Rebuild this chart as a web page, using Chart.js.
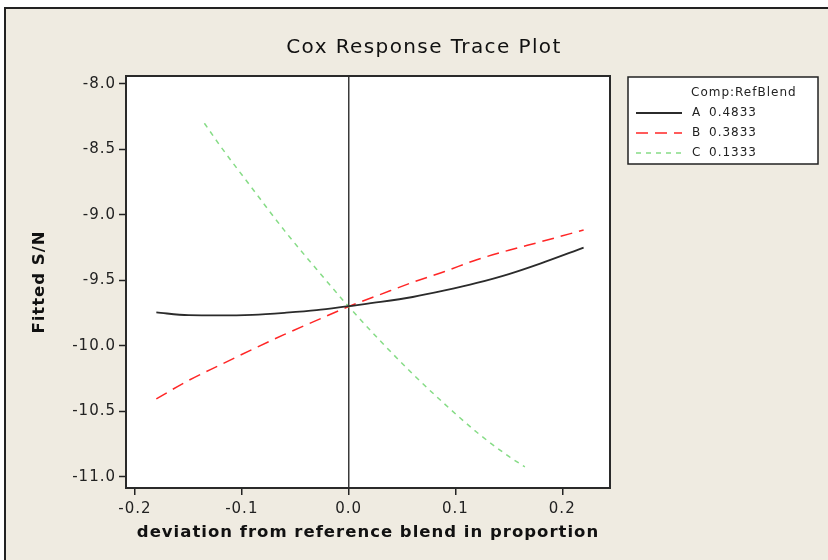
<!DOCTYPE html>
<html>
<head>
<meta charset="utf-8">
<script src="https://cdn.jsdelivr.net/npm/chart.js@4.4.0/dist/chart.umd.min.js"></script>
<style>
  html, body { margin: 0; padding: 0; background: #fff; }
  canvas { display: block; }
</style>
</head>
<body>
<canvas id="chart" width="828" height="560"></canvas>
<script>
// values
const compNames = ['A', 'B', 'C'];
const refBlend = ['0.4833', '0.3833', '0.1333'];

const xA = [-0.18, -0.15, -0.12, -0.09, -0.06, -0.03, 0, 0.03, 0.06, 0.09, 0.12, 0.15, 0.18, 0.22];
const yA = [-9.745, -9.766, -9.768, -9.763, -9.748, -9.728, -9.697, -9.665, -9.627, -9.577, -9.520, -9.452, -9.370, -9.250];

const xB = [-0.18, -0.15, -0.12, -0.09, -0.06, -0.03, 0, 0.03, 0.06, 0.09, 0.12, 0.15, 0.18, 0.22];
const yB = [-10.405, -10.265, -10.145, -10.027, -9.913, -9.806, -9.700, -9.607, -9.515, -9.432, -9.342, -9.270, -9.205, -9.115];

const xC = [-0.135, -0.12, -0.09, -0.06, -0.03, 0, 0.03, 0.06, 0.09, 0.12, 0.15, 0.165];
const yC = [-8.300, -8.475, -8.800, -9.120, -9.415, -9.700, -9.965, -10.215, -10.445, -10.660, -10.845, -10.925];

const xTickValues = [-0.2, -0.1, 0, 0.1, 0.2];
const xTickLabels = ['-0.2', '-0.1', '0.0', '0.1', '0.2'];
const yTickValues = [-8.0, -8.5, -9.0, -9.5, -10.0, -10.5, -11.0];
const yTickLabels = ['-8.0', '-8.5', '-9.0', '-9.5', '-10.0', '-10.5', '-11.0'];

const lineColors = ['#2b2b2b', '#ff2626', '#86dc86'];
const lineDashes = [[], [12, 7], [5, 5]];
const lineWidths = [1.8, 1.5, 1.5];

const toPoints = (xs, ys) => xs.map((x, i) => ({ x, y: ys[i] }));
const series = [toPoints(xA, yA), toPoints(xB, yB), toPoints(xC, yC)];

const BEIGE = '#efebe1';

// window background, plot background and outer frame
const backdrop = {
    id: 'backdrop',
    beforeDraw(chart) {
        const { ctx, width, height, chartArea: a } = chart;
        ctx.save();
        ctx.fillStyle = '#ffffff';
        ctx.fillRect(0, 0, width, height);
        ctx.fillStyle = BEIGE;
        ctx.fillRect(5, 8, width - 5, height - 8);
        ctx.strokeStyle = '#222';
        ctx.lineWidth = 2;
        ctx.beginPath();
        ctx.moveTo(5, height);
        ctx.lineTo(5, 8);
        ctx.lineTo(width, 8);
        ctx.stroke();
        ctx.fillStyle = '#ffffff';
        ctx.fillRect(a.left, a.top, a.right - a.left, a.bottom - a.top);
        ctx.restore();
        ctx.letterSpacing = '1px';
    },
    afterDatasetsDraw(chart) {
        const { ctx, chartArea: a } = chart;
        ctx.save();
        ctx.strokeStyle = '#2a2a2a';
        ctx.lineWidth = 2;
        ctx.strokeRect(a.left, a.top, a.right - a.left, a.bottom - a.top);
        ctx.restore();
    },
    afterDraw(chart) {
        const ctx = chart.ctx;
        // title
        ctx.save();
        ctx.letterSpacing = '1.4px';
        ctx.font = '20px "DejaVu Sans"';
        ctx.fillStyle = '#111';
        ctx.textAlign = 'center';
        ctx.textBaseline = 'middle';
        ctx.fillText('Cox Response Trace Plot', 424, 48);
        ctx.restore();

        // legend box
        ctx.save();
        ctx.fillStyle = '#ffffff';
        ctx.fillRect(628, 77, 190, 87);
        ctx.strokeStyle = '#222';
        ctx.lineWidth = 1.5;
        ctx.strokeRect(628, 77, 190, 87);
        ctx.letterSpacing = '1px';
        ctx.font = '12px "DejaVu Sans"';
        ctx.fillStyle = '#222';
        ctx.textBaseline = 'middle';
        ctx.textAlign = 'left';
        ctx.fillText('Comp:RefBlend', 691, 93);
        chart.data.datasets.forEach((ds, i) => {
            const y = 113 + i * 20;
            ctx.strokeStyle = ds.borderColor;
            ctx.lineWidth = ds.borderWidth;
            ctx.setLineDash(ds.borderDash || []);
            ctx.beginPath();
            ctx.moveTo(636, y);
            ctx.lineTo(682, y);
            ctx.stroke();
            ctx.setLineDash([]);
            ctx.fillText(compNames[i], 692, y);
            ctx.fillText(refBlend[i], 709, y);
        });
        ctx.restore();
        ctx.letterSpacing = '0px';
    }
};

new Chart(document.getElementById('chart'), {
    type: 'line',
    data: {
        datasets: series.map((pts, i) => ({
            label: compNames[i] + ' ' + refBlend[i],
            data: pts,
            borderColor: lineColors[i],
            borderDash: lineDashes[i],
            borderWidth: lineWidths[i],
            pointRadius: 0,
            fill: false,
            cubicInterpolationMode: 'monotone'
        }))
    },
    options: {
        responsive: false,
        animation: false,
        devicePixelRatio: 1,
        layout: { padding: { left: 26, right: 218, top: 76, bottom: 13 } },
        plugins: {
            legend: { display: false },
            title: { display: false },
            tooltip: { enabled: false }
        },
        scales: {
            x: {
                type: 'linear',
                min: -0.2084,
                max: 0.2447,
                afterBuildTicks: s => { s.ticks = xTickValues.map(v => ({ value: v })); },
                afterFit: s => { s.height = 59; },
                border: { display: false },
                grid: {
                    drawOnChartArea: true,
                    color: c => (c.tick && c.tick.value === 0 ? '#3a3a3a' : 'rgba(0,0,0,0)'),
                    lineWidth: 1.5,
                    tickColor: '#222',
                    tickLength: 7,
                    tickWidth: 1.5
                },
                ticks: {
                    padding: 5,
                    color: '#222',
                    font: { family: 'DejaVu Sans', size: 15 },
                    callback: (v) => xTickLabels[xTickValues.indexOf(v)],
                    maxRotation: 0
                },
                title: {
                    display: true,
                    text: 'deviation from reference blend in proportion',
                    color: '#111',
                    font: { family: 'DejaVu Sans', size: 16.5, weight: 'bold' },
                    padding: { top: 2, bottom: 4 }
                }
            },
            y: {
                type: 'linear',
                min: -11.086,
                max: -7.939,
                afterBuildTicks: s => { s.ticks = yTickValues.map(v => ({ value: v })); },
                afterFit: s => { s.width = 100; },
                border: { display: false },
                grid: {
                    drawOnChartArea: false,
                    tickColor: '#222',
                    tickLength: 7,
                    tickWidth: 1.5
                },
                ticks: {
                    padding: 3,
                    color: '#222',
                    font: { family: 'DejaVu Sans', size: 15 },
                    callback: (v) => yTickLabels[yTickValues.indexOf(v)]
                },
                title: {
                    display: true,
                    text: 'Fitted S/N',
                    color: '#111',
                    font: { family: 'DejaVu Sans', size: 16.5, weight: 'bold' },
                    padding: { top: 4, bottom: 4 }
                }
            }
        }
    },
    plugins: [backdrop]
});
</script>
</body>
</html>
